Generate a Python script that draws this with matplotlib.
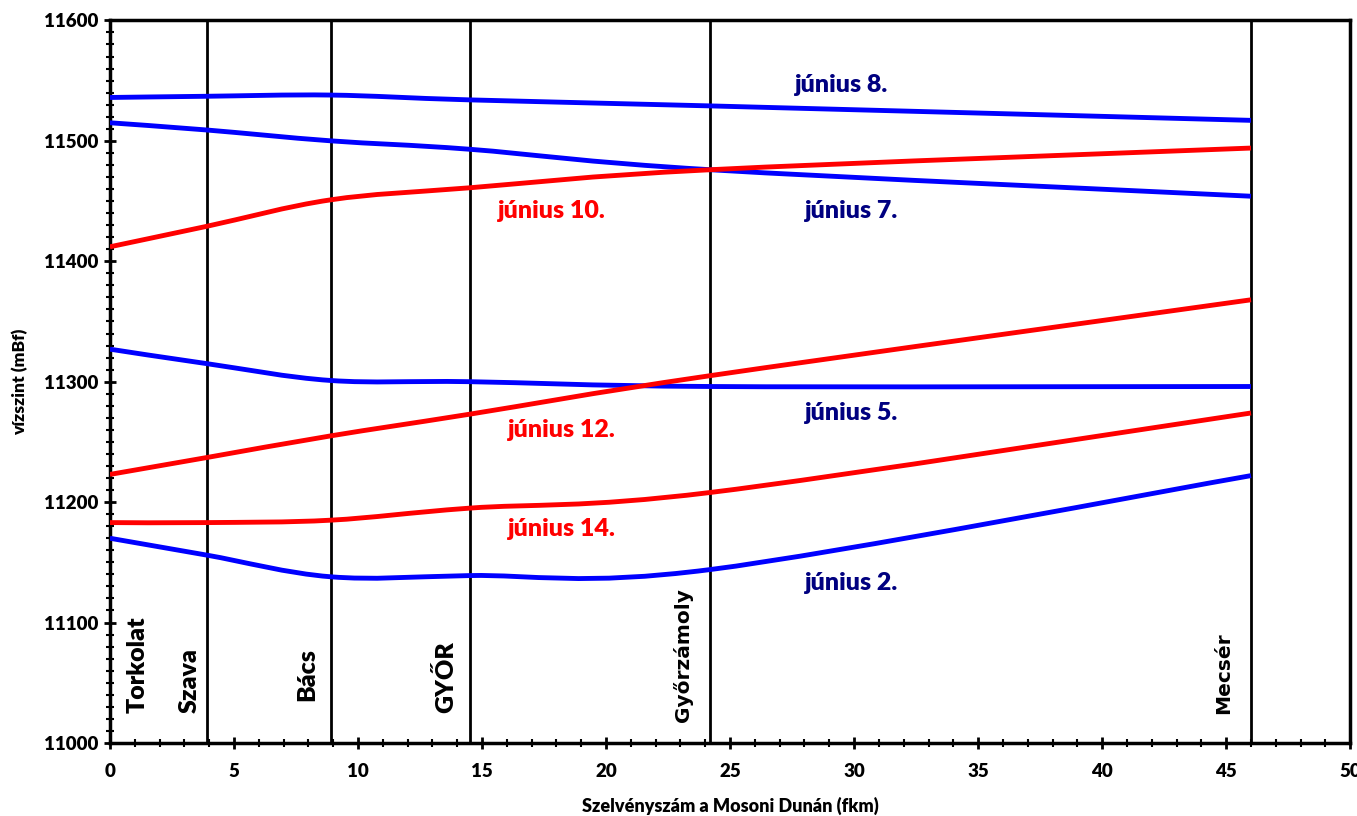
import numpy as np
import matplotlib.pyplot as plt
from matplotlib.path import Path
from matplotlib.patches import PathPatch
from matplotlib.ticker import MultipleLocator

# szelvények (fkm) és állomások
stations = [0, 3.9, 8.9, 14.5, 24.2, 46.0]
station_names = ['Torkolat', 'Szava', 'Bács', 'GYŐR', 'Győrzámoly', 'Mecsér']

# vízszintek (mBf) az állomásokon
jun2 = [11170, 11156, 11138, 11139, 11144, 11222]
jun5 = [11327, 11315, 11301, 11300, 11296, 11296]
jun7 = [11515, 11509, 11500, 11493, 11476, 11454]
jun8 = [11536, 11537, 11538, 11534, 11529, 11517]
jun10 = [11412, 11429, 11451, 11461, 11476, 11494]
jun12 = [11223, 11237, 11255, 11273, 11305, 11368]
jun14 = [11183, 11183, 11185, 11195, 11208, 11274]

series = [('június 2.', jun2, 'blue'), ('június 5.', jun5, 'blue'),
          ('június 7.', jun7, 'blue'), ('június 8.', jun8, 'blue'),
          ('június 10.', jun10, 'red'), ('június 12.', jun12, 'red'),
          ('június 14.', jun14, 'red')]

# felirat helyek (x, y)
label_pos = {'június 2.': (29.9, 11133), 'június 5.': (29.9, 11274),
             'június 7.': (29.9, 11442), 'június 8.': (29.5, 11546),
             'június 10.': (17.8, 11442), 'június 12.': (18.2, 11260),
             'június 14.': (18.2, 11178)}
label_color = {'blue': '#000080', 'red': 'red'}


def smooth_path(x, y):
    # Excel-szerű simított vonal bezier görbékkel
    x = np.asarray(x, float)
    y = np.asarray(y, float)
    n = len(x)
    verts = [(x[0], y[0])]
    codes = [Path.MOVETO]
    for i in range(n - 1):
        p0 = i - 1 if i > 0 else i
        p3 = i + 2 if i + 2 < n else i + 1
        c1 = (x[i] + (x[i+1] - x[p0]) / 6, y[i] + (y[i+1] - y[p0]) / 6)
        c2 = (x[i+1] - (x[p3] - x[i]) / 6, y[i+1] - (y[p3] - y[i]) / 6)
        verts += [c1, c2, (x[i+1], y[i+1])]
        codes += [Path.CURVE4] * 3
    return Path(verts, codes)


fig = plt.figure(figsize=(13.57, 8.16), dpi=100)
ax = fig.add_axes([0.081, 0.0895, 0.914, 0.8855])

for x0 in stations[1:]:
    ax.axvline(x0, color='black', lw=2, zorder=1)

for name, vals, col in series:
    ax.add_patch(PathPatch(smooth_path(stations, vals), fill=False,
                           edgecolor=col, lw=3.5, zorder=3, capstyle='butt'))
    lx, ly = label_pos[name]
    ax.text(lx, ly, name, color=label_color[col], fontsize=18, fontweight='heavy',
            family='Lato', ha='center', va='center')

name_x = [1.1, 3.2, 7.95, 13.55, 23.1, 44.9]
name_y = [11025, 11025, 11035, 11025, 11017, 11024]
for nm, nx, ny in zip(station_names, name_x, name_y):
    fam = 'DejaVu Sans' if nm in ('Győrzámoly', 'Mecsér') else 'Lato'
    ax.text(nx, ny, nm, rotation=90, fontsize=18 if fam == 'Lato' else 14.5,
            fontweight='heavy', family=fam, ha='center', va='bottom')

ax.set_xlim(0, 50)
ax.set_ylim(11000, 11600)
ax.xaxis.set_major_locator(MultipleLocator(5))
ax.xaxis.set_minor_locator(MultipleLocator(1))
ax.yaxis.set_major_locator(MultipleLocator(100))
ax.yaxis.set_minor_locator(MultipleLocator(10))
ax.tick_params(which='major', direction='inout', length=9, width=2, labelsize=13.5)
ax.tick_params(which='minor', direction='inout', length=6, width=1.5)
for lab in ax.get_xticklabels() + ax.get_yticklabels():
    lab.set_fontweight('heavy')
    lab.set_family('Lato')
ax.tick_params(axis='x', pad=10)
for sp in ax.spines.values():
    sp.set_linewidth(2.5)

ax.set_xlabel('Szelvényszám a Mosoni Dunán (fkm)', fontsize=13,
              fontweight='heavy', family='Lato', labelpad=12)
ax.set_ylabel('vízszint (mBf)', fontsize=12.5, fontweight='heavy', family='Lato',
              labelpad=12)

fig.savefig('out.png', dpi=100)
